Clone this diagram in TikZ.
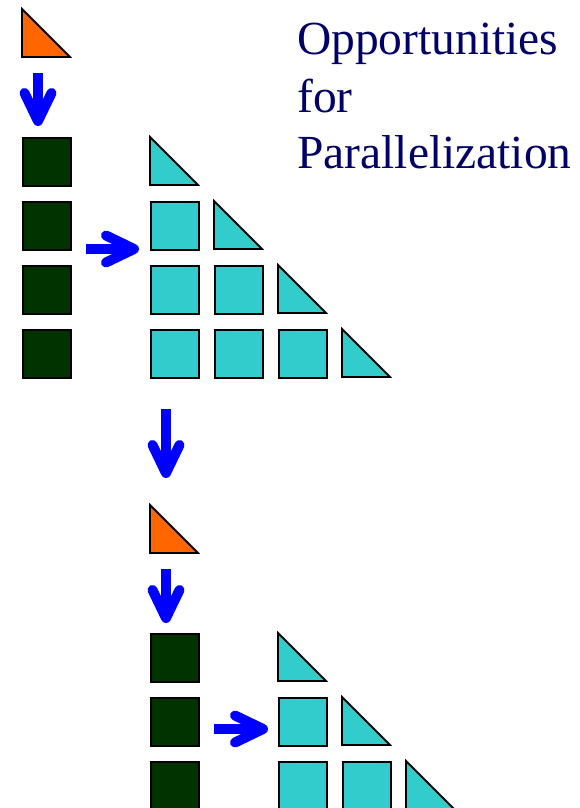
\documentclass[tikz,border=0pt]{standalone}
\usepackage{fontspec}
\setmainfont{Liberation Serif}
\usetikzlibrary{calc}
\definecolor{orng}{RGB}{255,102,0}
\definecolor{dgreen}{RGB}{0,51,0}
\definecolor{cyanf}{RGB}{51,204,204}
\definecolor{navy}{RGB}{0,0,102}
\definecolor{arrblue}{RGB}{0,0,255}
\tikzset{
  sq/.style={draw=black, line width=1.8pt, minimum size=48pt, inner sep=0pt, anchor=north west},
  dk/.style={sq, fill=dgreen},
  cy/.style={sq, fill=cyanf},
  tri/.style={draw=black, line width=1.8pt, line join=miter},
  shaft/.style={draw=arrblue, line width=10pt, line cap=butt},
  barb/.style={draw=arrblue, line width=10pt, line cap=round, line join=round},
  ttl/.style={anchor=base west, inner sep=0pt, text=navy, font=\rmfamily\fontsize{47.5}{57}\selectfont}
}
% triangle with top-left corner at (#1,#2)
\newcommand{\rtri}[3]{\filldraw[tri, fill=#3] (#1,#2) -- (#1,#2+48) -- (#1+48,#2+48) -- cycle;}
\begin{document}
\begin{tikzpicture}[x=1pt,y=-1pt]
\useasboundingbox (0,0) rectangle (580,808);
% title
\node[ttl] (t1) at (297,55) {Opportunities};
\node[ttl] (t2) at (297,112) {for};
\node[ttl] (t3) at (297,168) {Parallelization};
% top group
\rtri{22}{9}{orng}
\foreach \r/\y in {1/137,2/201,3/265,4/329} {\node[dk] (d\r) at (22,\y) {};}
\rtri{150}{137}{cyanf}
\node[cy] (c21) at (150,201) {};
\rtri{214}{201}{cyanf}
\node[cy] (c31) at (150,265) {};
\node[cy] (c32) at (214,265) {};
\rtri{278}{265}{cyanf}
\node[cy] (c41) at (150,329) {};
\node[cy] (c42) at (214,329) {};
\node[cy] (c43) at (278,329) {};
\rtri{342}{329}{cyanf}
% bottom group
\rtri{150}{505}{orng}
\foreach \r/\y in {1/633,2/697,3/761} {\node[dk] (e\r) at (150,\y) {};}
\rtri{278}{633}{cyanf}
\node[cy] (f21) at (278,697) {};
\rtri{342}{697}{cyanf}
\node[cy] (f31) at (278,761) {};
\node[cy] (f32) at (342,761) {};
\rtri{406}{761}{cyanf}
% arrows
% down arrow 1
\coordinate (a1s) at (38,73); \coordinate (a1t) at (38,121);
\draw[shaft] (a1s) -- (a1t);
\draw[barb] ($(a1t)+(-13.5,-28)$) -- (a1t) -- ($(a1t)+(13.5,-28)$);
% right arrow 1
\coordinate (b1s) at (86,249); \coordinate (b1t) at (134,249);
\draw[shaft] (b1s) -- (b1t);
\draw[barb] ($(b1t)+(-28,-13.5)$) -- (b1t) -- ($(b1t)+(-28,13.5)$);
% down arrow 2
\coordinate (a2s) at (166,409); \coordinate (a2t) at (166,473);
\draw[shaft] (a2s) -- (a2t);
\draw[barb] ($(a2t)+(-13.5,-28)$) -- (a2t) -- ($(a2t)+(13.5,-28)$);
% down arrow 3
\coordinate (a3s) at (166,569); \coordinate (a3t) at (166,618);
\draw[shaft] (a3s) -- (a3t);
\draw[barb] ($(a3t)+(-13.5,-28)$) -- (a3t) -- ($(a3t)+(13.5,-28)$);
% right arrow 2
\coordinate (b2s) at (214,729); \coordinate (b2t) at (263,729);
\draw[shaft] (b2s) -- (b2t);
\draw[barb] ($(b2t)+(-28,-13.5)$) -- (b2t) -- ($(b2t)+(-28,13.5)$);
\end{tikzpicture}
\end{document}
